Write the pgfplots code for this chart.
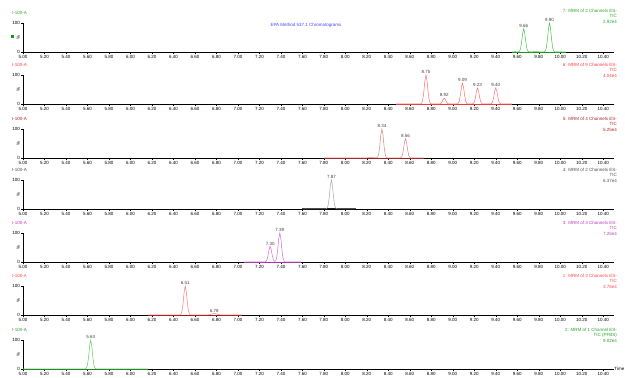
\documentclass[border=0pt]{standalone}
\usepackage{pgfplots}
\pgfplotsset{compat=1.18}
\usepackage{fontspec}
\setmainfont{Liberation Sans}
\definecolor{t1}{RGB}{70,195,70}\definecolor{b1}{RGB}{30,150,30}\definecolor{l1}{RGB}{40,170,40}
\definecolor{t2}{RGB}{255,110,110}\definecolor{b2}{RGB}{230,60,60}\definecolor{l2}{RGB}{255,60,60}
\definecolor{t3}{RGB}{215,130,130}\definecolor{b3}{RGB}{150,35,35}\definecolor{l3}{RGB}{170,40,40}
\definecolor{t4}{RGB}{165,165,165}\definecolor{b4}{RGB}{30,30,30}\definecolor{l4}{RGB}{80,80,80}
\definecolor{t5}{RGB}{205,110,205}\definecolor{b5}{RGB}{170,50,170}\definecolor{l5}{RGB}{190,60,190}
\definecolor{t6}{RGB}{255,120,120}\definecolor{b6}{RGB}{150,30,30}\definecolor{l6}{RGB}{255,70,70}
\definecolor{t7}{RGB}{100,200,100}\definecolor{b7}{RGB}{30,130,30}\definecolor{l7}{RGB}{40,160,40}
\definecolor{ttl}{RGB}{70,70,255}
\newcommand{\sz}{\fontsize{4.5}{5.5}\selectfont}
\pgfplotsset{
  chrom/.style={
    scale only axis, width=591pt, height=29pt,
    xmin=5, xmax=10.5, ymin=0, ymax=100,
    axis x line*=bottom, axis y line*=left,
    axis line style={black, line width=0.7pt, -},
    xtick={5.0,5.2,5.4,5.6,5.8,6.0,6.2,6.4,6.6,6.8,7.0,7.2,7.4,7.6,7.8,8.0,8.2,8.4,8.6,8.8,9.0,9.2,9.4,9.6,9.8,10.0,10.2,10.4},
    minor x tick num=9,
    ytick={0,100},
    tick align=outside,
    major tick length=2pt, minor tick length=1.1pt,
    every tick/.style={black, line width=0.35pt},
    xticklabel={\pgfmathprintnumber[fixed,fixed zerofill,precision=2,assume math mode=true]{\tick}},
    yticklabel={\pgfmathprintnumber[assume math mode=true]{\tick}},
    ticklabel style={font=\sz, inner sep=1pt},
    ylabel={\%}, ylabel style={font=\sz, at={(rel axis cs:0,0.5)}, anchor=south, inner sep=3pt},
    clip=false,
    anchor=south west,
    nodes near coords style={font=\sz, anchor=south, inner sep=1pt, text=black!75},
  },
  lbl/.style={draw=none, mark=none, nodes near coords, point meta=explicit symbolic},
}
\begin{document}
\begin{tikzpicture}[x=1pt,y=1pt]
\useasboundingbox (0,0) rectangle (625,378);
% Panel 1 (top)
\begin{axis}[chrom, name=p1, at={(23pt,326pt)}]
\addplot[b1, line width=0.7pt] coordinates {(9.55,0.5)(10.05,0.5)};
\addplot[t1, line width=0.5pt] coordinates {(9.55,0.5)(9.58,1)(9.60,0.5)(9.61,0.6)(9.62,2.4)(9.63,10.8)(9.64,32.8)(9.65,64)(9.66,80)(9.67,64)(9.68,32.8)(9.69,10.8)(9.70,2.4)(9.71,0.6)(9.74,0.8)(9.78,1.5)(9.80,0.8)(9.85,0.5)(9.86,3)(9.87,13.5)(9.88,41)(9.89,80)(9.90,100)(9.91,80)(9.92,41)(9.93,13.5)(9.94,3)(9.95,0.5)(10.05,0.5)};
\addplot[lbl] coordinates {(9.66,80)[9.66] (9.90,100)[9.90]};
\end{axis}
% Panel 2
\begin{axis}[chrom, name=p2, at={(23pt,274pt)}]
\addplot[b2, line width=0.6pt] coordinates {(8.47,0.5)(9.55,0.5)};
\addplot[t2, line width=0.5pt] coordinates {(8.47,0.5)(8.55,0.5)(8.65,0.8)(8.70,0.5)(8.71,3)(8.72,13.5)(8.73,41)(8.74,80)(8.75,100)(8.76,80)(8.77,41)(8.78,13.5)(8.79,3)(8.80,0.5)(8.87,0.5)(8.88,0.6)(8.89,2.7)(8.90,8.2)(8.91,16)(8.92,20)(8.93,16)(8.94,8.2)(8.95,2.7)(8.96,0.6)(8.98,0.5)(9.04,0.5)(9.05,2.2)(9.06,9.7)(9.07,29.5)(9.08,57.6)(9.09,72)(9.10,57.6)(9.11,29.5)(9.12,9.7)(9.13,2.2)(9.14,0.5)(9.18,0.5)(9.19,1.7)(9.20,7.4)(9.21,22.6)(9.22,44)(9.23,55)(9.24,44)(9.25,22.6)(9.26,7.4)(9.27,1.7)(9.28,0.5)(9.35,0.5)(9.36,1.7)(9.37,7.4)(9.38,22.6)(9.39,44)(9.40,55)(9.41,44)(9.42,22.6)(9.43,7.4)(9.44,1.7)(9.45,0.5)(9.55,0.5)};
\addplot[lbl] coordinates {(8.75,100)[8.75] (8.92,20)[8.92] (9.09,72)[9.09] (9.23,55)[9.23] (9.40,55)[9.40]};
\end{axis}
% Panel 3
\begin{axis}[chrom, name=p3, at={(23pt,220pt)}]
\addplot[b3, line width=0.6pt] coordinates {(7.80,0.5)(8.73,0.5)};
\addplot[t3, line width=0.5pt] coordinates {(7.80,0.5)(8.00,0.5)(8.20,0.8)(8.25,1.5)(8.29,0.5)(8.30,3)(8.31,13.5)(8.32,41)(8.33,80)(8.34,100)(8.35,80)(8.36,41)(8.37,13.5)(8.38,3)(8.39,0.5)(8.51,0.5)(8.52,2)(8.53,9)(8.54,27.5)(8.55,53.6)(8.56,67)(8.57,53.6)(8.58,27.5)(8.59,9)(8.60,2)(8.61,0.5)(8.73,0.5)};
\addplot[lbl] coordinates {(8.34,100)[8.34] (8.56,67)[8.56]};
\end{axis}
% Panel 4
\begin{axis}[chrom, name=p4, at={(23pt,169pt)}]
\addplot[b4, line width=0.8pt] coordinates {(7.60,0.5)(8.10,0.5)};
\addplot[t4, line width=0.5pt] coordinates {(7.60,0.5)(7.80,0.5)(7.82,0.6)(7.83,3)(7.84,13.5)(7.85,41)(7.86,80)(7.87,100)(7.88,80)(7.89,41)(7.90,13.5)(7.91,3)(7.92,0.6)(8.10,0.5)};
\addplot[lbl] coordinates {(7.87,100)[7.87]};
\end{axis}
% Panel 5
\begin{axis}[chrom, name=p5, at={(23pt,116pt)}]
\addplot[b5, line width=0.7pt] coordinates {(7.06,0.5)(7.59,0.5)};
\addplot[t5, line width=0.5pt] coordinates {(7.06,0.5)(7.20,0.5)(7.25,0.6)(7.26,1.5)(7.27,7.3)(7.28,22)(7.29,43)(7.30,54)(7.31,43)(7.32,22)(7.33,7.5)(7.34,2)(7.35,3.2)(7.36,13.5)(7.37,41)(7.38,80)(7.39,100)(7.40,80)(7.41,41)(7.42,13.5)(7.43,3)(7.44,0.5)(7.59,0.5)};
\addplot[lbl] coordinates {(7.30,54)[7.30] (7.39,100)[7.39]};
\end{axis}
% Panel 6
\begin{axis}[chrom, name=p6, at={(23pt,63pt)}]
\addplot[b6, line width=0.7pt] coordinates {(6.16,0.5)(7.04,0.5)};
\addplot[t6, line width=0.5pt] coordinates {(6.16,0.5)(6.40,0.5)(6.46,0.6)(6.47,3)(6.48,13.5)(6.49,41)(6.50,80)(6.51,100)(6.52,80)(6.53,41)(6.54,13.5)(6.55,3)(6.56,0.6)(6.72,0.5)(6.74,1.5)(6.76,4)(6.78,5)(6.80,4)(6.82,1.5)(6.84,0.5)(7.04,0.5)};
\addplot[lbl] coordinates {(6.51,100)[6.51] (6.78,5)[6.78]};
\end{axis}
% Panel 7 (bottom)
\begin{axis}[chrom, name=p7, at={(23pt,9pt)}]
\addplot[b7, line width=0.7pt] coordinates {(5.00,0.5)(6.16,0.5)};
\addplot[t7, line width=0.5pt] coordinates {(5.00,0.5)(5.40,0.5)(5.58,0.6)(5.59,3)(5.60,13.5)(5.61,41)(5.62,80)(5.63,100)(5.64,80)(5.65,41)(5.66,13.5)(5.67,3)(5.68,0.6)(6.16,0.5)};
\addplot[lbl] coordinates {(5.63,100)[5.63]};
\end{axis}
% Left labels
\foreach \p/\c in {p1/l1,p2/l2,p3/l3,p4/l4,p5/l5,p6/l6,p7/l7}{
  \node[anchor=west, inner sep=0, font=\sz, text=\c] at ([xshift=-11pt,yshift=10pt]\p.north west) {I-100-A};
}
% Right labels
\node[anchor=north east, align=right, inner sep=0, font=\sz, text=l1] at ([xshift=3pt,yshift=14pt]p1.north east) {7: MRM of 2 Channels ES-\\TIC\\2.92e4};
\node[anchor=north east, align=right, inner sep=0, font=\sz, text=l2] at ([xshift=3pt,yshift=12pt]p2.north east) {6: MRM of 9 Channels ES-\\TIC\\4.04e4};
\node[anchor=north east, align=right, inner sep=0, font=\sz, text=l3] at ([xshift=3pt,yshift=12pt]p3.north east) {5: MRM of 4 Channels ES-\\TIC\\5.25e4};
\node[anchor=north east, align=right, inner sep=0, font=\sz, text=l4] at ([xshift=3pt,yshift=12pt]p4.north east) {4: MRM of 2 Channels ES-\\TIC\\6.37e4};
\node[anchor=north east, align=right, inner sep=0, font=\sz, text=l5] at ([xshift=3pt,yshift=12pt]p5.north east) {3: MRM of 3 Channels ES-\\TIC\\7.26e4};
\node[anchor=north east, align=right, inner sep=0, font=\sz, text=l6] at ([xshift=3pt,yshift=12pt]p6.north east) {1: MRM of 3 Channels ES-\\TIC\\3.76e4};
\node[anchor=north east, align=right, inner sep=0, font=\sz, text=l7] at ([xshift=3pt,yshift=12pt]p7.north east) {2: MRM of 1 Channel ES-\\TIC (PFBS)\\9.02e4};
% Title, marker, Time
\node[font=\sz, text=ttl, inner sep=0] at (306,353) {EPA Method 537.1 Chromatograms};
\node[fill=b1, minimum size=3pt, inner sep=0] at (12,341) {};
\node[anchor=east, font=\sz, inner sep=0] at (624.5,9) {Time};
\end{tikzpicture}
\end{document}
